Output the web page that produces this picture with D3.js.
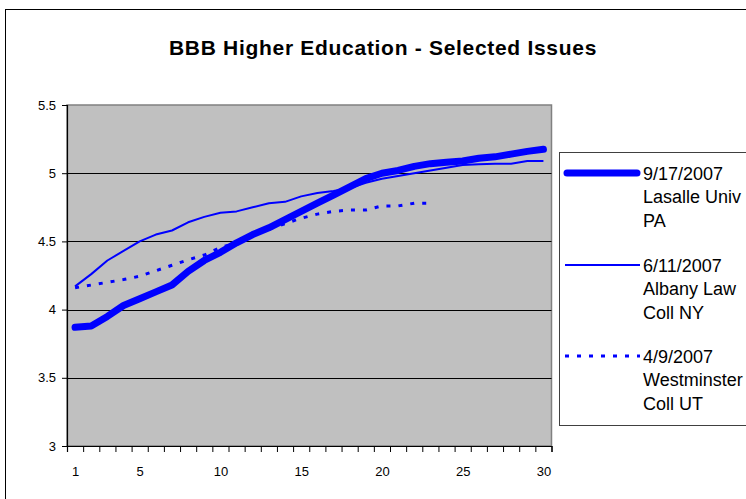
<!DOCTYPE html>
<html>
<head>
<meta charset="utf-8">
<script src="https://cdn.jsdelivr.net/npm/d3@7"></script>
<style>
  html, body { margin: 0; padding: 0; background: #fff; }
  svg { display: block; }
  text { font-family: "Liberation Sans", Arial, sans-serif; fill: #000; }
</style>
</head>
<body>
<svg id="chart" width="746" height="499"></svg>
<script>
// Survey rounds 1..30
const categories = d3.range(1, 31);
const xLabels = [1, 5, 10, 15, 20, 25, 30];
const yTicks = [3, 3.5, 4, 4.5, 5, 5.5];

const lasalle = [3.87, 3.88, 3.95, 4.03, 4.08, 4.13, 4.18, 4.28, 4.36, 4.42,
                 4.49, 4.55, 4.60, 4.66, 4.72, 4.78, 4.84, 4.90, 4.96, 5.00,
                 5.02, 5.05, 5.07, 5.08, 5.09, 5.11, 5.12, 5.14, 5.16, 5.175];
const albany = [4.17, 4.26, 4.36, 4.43, 4.50, 4.55, 4.58, 4.64, 4.68, 4.71,
                4.72, 4.75, 4.78, 4.79, 4.83, 4.855, 4.87, 4.89, 4.93, 4.96,
                4.98, 5.00, 5.02, 5.04, 5.06, 5.065, 5.07, 5.07, 5.09, 5.09];
const westminster = [4.16, 4.18, 4.20, 4.22, 4.245, 4.285, 4.325, 4.365, 4.40, 4.455,
                     4.49, 4.54, 4.59, 4.63, 4.67, 4.70, 4.72, 4.73, 4.73, 4.76,
                     4.76, 4.78, 4.78];

const seriesNames = [
  ["9/17/2007", "Lasalle Univ", "PA"],
  ["6/11/2007", "Albany Law", "Coll NY"],
  ["4/9/2007", "Westminster", "Coll UT"]
];

const styles = [
  { width: 7, dash: null, cap: "round" },
  { width: 2, dash: null, cap: "butt" },
  { width: 3, dash: "4,8", cap: "butt" }
];
const seriesValues = [lasalle, albany, westminster];
const blue = "#0000ff";

const svg = d3.select("#chart");

// outer chart frame
svg.append("rect")
  .attr("x", 5.5).attr("y", 9.5)
  .attr("width", 760).attr("height", 520)
  .attr("fill", "#fff").attr("stroke", "#000").attr("stroke-width", 1);

// title
svg.append("text")
  .attr("x", 383).attr("y", 55)
  .attr("text-anchor", "middle")
  .style("font-size", "21px").style("font-weight", "bold")
  .style("letter-spacing", "0.7px")
  .text("BBB Higher Education - Selected Issues");

const plot = { left: 67, top: 105, right: 551.5, bottom: 446 };

const x = d3.scaleLinear().domain([0.5, 30.5]).range([plot.left, plot.right]);
const y = d3.scaleLinear().domain([3, 5.5]).range([plot.bottom, plot.top]);

// plot area background
svg.append("rect")
  .attr("x", plot.left).attr("y", plot.top)
  .attr("width", plot.right - plot.left).attr("height", plot.bottom - plot.top)
  .attr("fill", "#c0c0c0").attr("stroke", "#808080").attr("stroke-width", 1.5);

// horizontal gridlines
svg.append("g")
  .selectAll("line")
  .data(yTicks.filter(v => v > 3 && v < 5.5))
  .join("line")
  .attr("x1", plot.left).attr("x2", plot.right)
  .attr("y1", d => Math.round(y(d)) + 0.5).attr("y2", d => Math.round(y(d)) + 0.5)
  .attr("stroke", "#000").attr("stroke-width", 1);

// y axis
const yAxis = svg.append("g")
  .attr("transform", `translate(${plot.left},0)`)
  .call(d3.axisLeft(y).tickValues(yTicks).tickSize(5).tickPadding(6)
    .tickFormat(d => String(d)));
yAxis.select(".domain").attr("stroke", "#000").attr("stroke-width", 1.2);
yAxis.selectAll(".tick line").attr("stroke", "#000");
yAxis.selectAll("text").style("font-size", "13px");

// x axis: tick marks between categories
const xAxisTicks = svg.append("g")
  .attr("transform", `translate(0,${plot.bottom})`)
  .call(d3.axisBottom(x).tickValues(d3.range(0.5, 31, 1)).tickSize(6).tickFormat(""));
xAxisTicks.select(".domain").attr("stroke", "#000").attr("stroke-width", 1.2);
xAxisTicks.selectAll(".tick line").attr("stroke", "#000");

// x axis labels at category centres
const xAxisLabels = svg.append("g")
  .attr("transform", `translate(0,${plot.bottom})`)
  .call(d3.axisBottom(x).tickValues(xLabels).tickSize(0).tickPadding(21));
xAxisLabels.select(".domain").remove();
xAxisLabels.selectAll("text").style("font-size", "13px");

// series lines
const line = d3.line()
  .x((d, i) => x(categories[i]))
  .y(d => y(d))
  .curve(d3.curveLinear);

seriesValues.forEach((vals, k) => {
  const s = styles[k];
  svg.append("path")
    .datum(vals)
    .attr("d", line)
    .attr("fill", "none")
    .attr("stroke", blue)
    .attr("stroke-width", s.width)
    .attr("stroke-linecap", s.cap)
    .attr("stroke-linejoin", "round")
    .attr("stroke-dasharray", s.dash);
});

// legend
const legend = svg.append("g");
legend.append("rect")
  .attr("x", 559.5).attr("y", 152.5)
  .attr("width", 220).attr("height", 273)
  .attr("fill", "#fff").attr("stroke", "#404040").attr("stroke-width", 1);

const entryY = [173, 265, 356];
seriesNames.forEach((lines, k) => {
  const s = styles[k];
  const cy = entryY[k];
  legend.append("line")
    .attr("x1", k === 0 ? 567 : 565).attr("x2", k === 0 ? 637 : 640)
    .attr("y1", cy).attr("y2", cy)
    .attr("stroke", blue)
    .attr("stroke-width", s.width)
    .attr("stroke-linecap", s.cap)
    .attr("stroke-dasharray", s.dash);
  lines.forEach((t, j) => {
    legend.append("text")
      .attr("x", 643).attr("y", cy + 6.5 + j * 23.5)
      .style("font-size", "18px")
      .text(t);
  });
});
</script>
</body>
</html>
